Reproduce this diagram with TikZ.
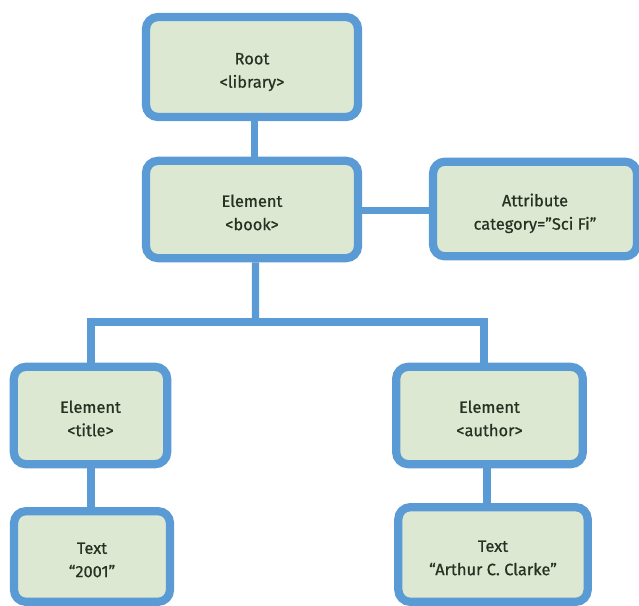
\documentclass[tikz,border=0pt]{standalone}
\usepackage{fontspec}
\setmainfont{Fira Sans}
\newfontfamily\boxfont{Fira Sans}[FakeBold=0.6]
\usepackage{tikz}
\usepackage{xcolor}

\definecolor{boxfill}{RGB}{221,232,210}
\definecolor{boxline}{RGB}{91,155,213}
\definecolor{boxtext}{RGB}{38,50,33}

\begin{document}
\begin{tikzpicture}[x=0.75pt,y=0.75pt,yscale=-1,xscale=1,
  xmlbox/.style={draw=boxline, fill=boxfill, line width=6.2pt, rounded corners=9pt,
    align=center, text=boxtext, inner sep=0pt, text height=31pt, text depth=0pt,
    font=\boxfont\fontsize{12.3}{17.5}\selectfont},
  xmlline/.style={draw=boxline, line width=5.4pt}]
\useasboundingbox (0,0) rectangle (639,606);

%Rounded Rect [id:root] 
\node [xmlbox, minimum width=159pt, minimum height=75pt] (root) at (252,67) {Root\\<library>};
%Rounded Rect [id:book] 
\node [xmlbox, minimum width=159pt, minimum height=73pt] (book) at (252,209.5) {Element\\<book>};
%Rounded Rect [id:attr] 
\node [xmlbox, minimum width=153pt, minimum height=71pt] (attr) at (535,209) {Attribute\\category=”Sci Fi”};
%Rounded Rect [id:title] 
\node [xmlbox, minimum width=115pt, minimum height=73pt] (title) at (90.5,415.5) {Element\\<title>};
%Rounded Rect [id:author] 
\node [xmlbox, minimum width=140pt, minimum height=73pt] (author) at (489.5,415.5) {Element\\<author>};
%Rounded Rect [id:year] 
\node [xmlbox, minimum width=117pt, minimum height=68pt] (year) at (92,556.5) {Text\\“2001”};
%Rounded Rect [id:name] 
\node [xmlbox, minimum width=142pt, minimum height=71pt] (name) at (493,554.5) {Text\\“Arthur C. Clarke”};

%Straight Lines 
\coordinate (fork) at (255.5,322);
\coordinate (forkL) at (91,322);
\coordinate (forkR) at (484,322);
\draw [xmlline] ([xshift=1.9pt]root.south) -- ([xshift=1.9pt]book.north);
\draw [xmlline] ([yshift=0.8pt]book.east) -- ([yshift=0.8pt]book.east -| attr.west);
\draw [xmlline] ([xshift=2.6pt]book.south) -- (fork);
\draw [xmlline] (title.north -| forkL) -- (forkL) -- (forkR) -- (author.north -| forkR);
\draw [xmlline] (title.south -| forkL) -- (year.north -| forkL);
\draw [xmlline] ([xshift=-1.9pt]author.south) -- ([xshift=-1.9pt]author.south |- name.north);

\end{tikzpicture}
\end{document}
